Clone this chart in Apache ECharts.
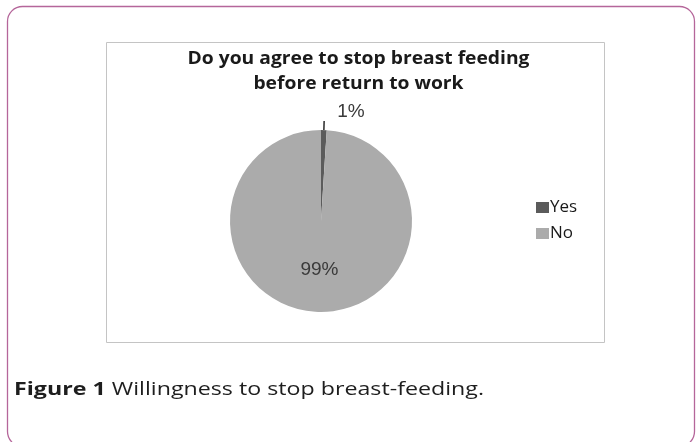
<!DOCTYPE html>
<html>
<head>
<meta charset="utf-8">
<script src="https://cdn.jsdelivr.net/npm/echarts@6/dist/echarts.min.js"></script>
<style>
  html, body { margin: 0; padding: 0; background: #ffffff; }
  #chart { width: 699px; height: 442px; }
</style>
</head>
<body>
<div id="chart"></div>
<script>
// Survey answers: share of respondents per answer (percent)
const categories = ['Yes', 'No'];
const values = [1, 99];
const sliceColors = ['#5b5b5b', '#ababab'];

const titleLines = ['Do you agree to stop breast feeding', 'before return to work'];
const captionBold = 'Figure 1';
const captionText = 'Willingness to stop breast-feeding.';

const FONT = '"Open Sans", sans-serif';

// measure text so the title and caption can be stretched to their box widths
const measureCtx = document.createElement('canvas').getContext('2d');
function textWidth(str, font) {
  measureCtx.font = font;
  return measureCtx.measureText(str).width;
}

const titleFont = 'bold 18px ' + FONT;
const titleScale = 342 / textWidth(titleLines[0], titleFont);

const capBoldFont = 'bold 18px ' + FONT;
const capFont = '18px ' + FONT;
const capWidth = textWidth(captionBold + ' ', capBoldFont) + textWidth(captionText, capFont);
const capScale = 470 / capWidth;

const chart = echarts.init(document.getElementById('chart'), null, { renderer: 'canvas' });

const pieData = categories.map((name, i) => ({
  name: name,
  value: values[i],
  itemStyle: { color: sliceColors[i] },
  label: i === 0
    ? { position: 'outside', distanceToLabelLine: 13, formatter: '{c}%\n', lineHeight: 18 }
    : { position: 'inside' },
  labelLine: i === 0 ? { show: true, length: 9, length2: 0 } : { show: false }
}));

chart.setOption({
  animation: false,
  backgroundColor: '#ffffff',
  graphic: [
    {
      // outer card frame
      type: 'rect',
      shape: { x: 7.5, y: 6.5, width: 687, height: 440, r: 15 },
      style: { fill: '#ffffff', stroke: '#b5669a', lineWidth: 1.3 },
      z: 0
    },
    {
      // chart area frame
      type: 'rect',
      shape: { x: 106.5, y: 42.5, width: 498, height: 300 },
      style: { fill: '#ffffff', stroke: '#c4c4c4', lineWidth: 1 },
      z: 1
    },
    {
      type: 'text',
      x: 358.5, y: 58.5,
      scaleX: titleScale,
      style: {
        text: titleLines[0],
        font: titleFont,
        fill: '#1a1a1a',
        align: 'center',
        verticalAlign: 'middle'
      },
      z: 2
    },
    {
      type: 'text',
      x: 358.5, y: 83.5,
      scaleX: titleScale,
      style: {
        text: titleLines[1],
        font: titleFont,
        fill: '#1a1a1a',
        align: 'center',
        verticalAlign: 'middle'
      },
      z: 2
    },
    {
      type: 'text',
      x: 14, y: 389.5,
      scaleX: capScale,
      style: {
        text: '{b|' + captionBold + '} ' + captionText,
        font: capFont,
        fill: '#1e1e1e',
        verticalAlign: 'middle',
        rich: {
          b: { font: capBoldFont, fill: '#1e1e1e' }
        }
      },
      z: 2
    }
  ],
  legend: {
    orient: 'vertical',
    left: 531,
    top: 194,
    itemWidth: 13,
    itemHeight: 11,
    itemGap: 9,
    icon: 'rect',
    textStyle: {
      fontFamily: FONT,
      fontSize: 17,
      color: '#1a1a1a',
      padding: [0, 0, 0, -4]
    },
    data: categories
  },
  series: [{
    type: 'pie',
    center: [321, 221],
    radius: 91,
    startAngle: 90,
    clockwise: true,
    data: pieData,
    label: {
      formatter: '{c}%',
      fontFamily: '"Liberation Sans", Arial, sans-serif',
      fontSize: 19,
      color: '#3a3a3a'
    },
    labelLine: { lineStyle: { color: '#3a3a3a', width: 1.6 } },
    emphasis: { disabled: true },
    itemStyle: { borderWidth: 0 }
  }]
});
</script>
</body>
</html>
